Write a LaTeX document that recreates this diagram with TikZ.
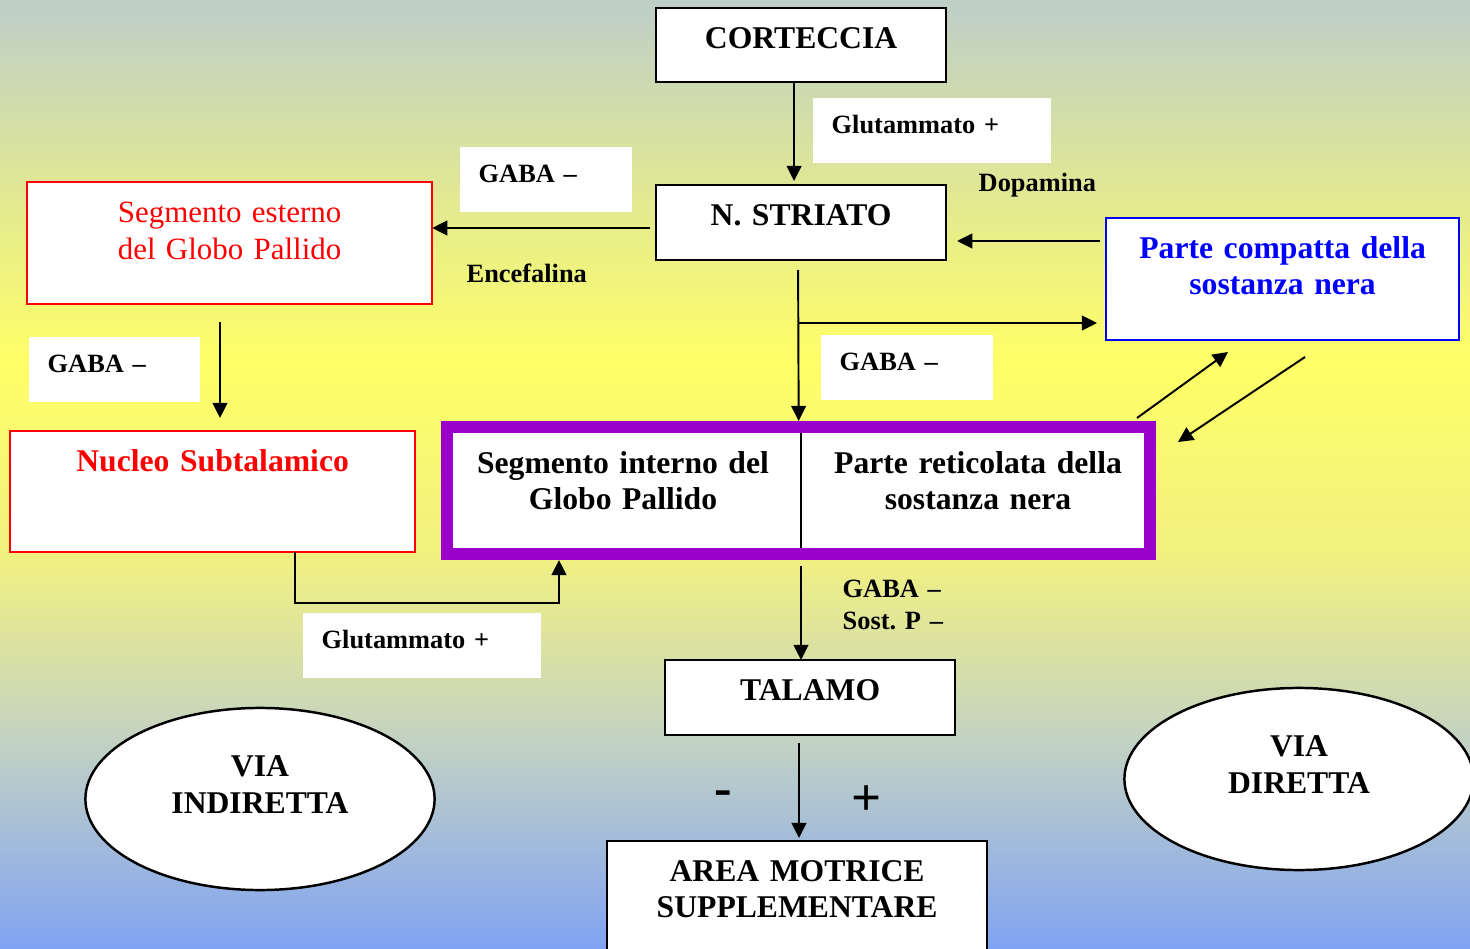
\documentclass[tikz,border=0pt]{standalone}
\usepackage{fontspec}
\setmainfont{Liberation Serif}
\usetikzlibrary{arrows.meta, shapes}
\frenchspacing

\definecolor{viola}{RGB}{153,0,204}
\definecolor{sfA}{RGB}{190,206,200}
\definecolor{sfB}{RGB}{255,255,102}
\definecolor{sfC}{RGB}{240,240,130}
\definecolor{sfD}{RGB}{195,210,195}
\definecolor{sfE}{RGB}{128,163,242}

\begin{document}
\begin{tikzpicture}[x=0.01cm, y=-0.01cm,
  box/.style={draw, fill=white, line width=0.7pt, inner sep=0pt, outer sep=0pt,
    anchor=north west, align=center, text height=0.4cm,
    font=\bfseries\fontsize{9}{10.5}\selectfont},
  lbl/.style={fill=white, inner xsep=0.19cm, inner ysep=0pt, anchor=north west,
    align=left, text height=0.36cm, text depth=0.29cm,
    font=\bfseries\fontsize{7.5}{9.1}\selectfont},
  note/.style={inner sep=0pt, anchor=base west, font=\bfseries\fontsize{7.5}{9.1}\selectfont},
  via/.style={ellipse, draw, fill=white, line width=0.7pt, inner sep=0pt,
    minimum width=3.49cm, minimum height=1.82cm, text width=2.2cm, align=center,
    text height=0.3cm, text depth=0.74cm, font=\bfseries\fontsize{9}{10.5}\selectfont},
  segno/.style={inner sep=0pt, font=\bfseries\fontsize{15}{18}\selectfont},
  conn/.style={line width=0.55pt, -{Triangle[length=4.3pt,width=4.2pt]}}]
  \useasboundingbox (0,0) rectangle (1470,949);
  \shade[top color=sfA, bottom color=sfB] (0,0) rectangle (1470,361);
  \shade[top color=sfB, bottom color=sfC] (0,360) rectangle (1470,561);
  \shade[top color=sfC, bottom color=sfD] (0,560) rectangle (1470,741);
  \shade[top color=sfD, bottom color=sfE] (0,740) rectangle (1470,949);

  \node[box, text width=2.9cm, text depth=0.34cm] (cort) at (656,8) {CORTECCIA};
  \node[box, text width=2.9cm, text depth=0.35cm] (striato) at (656,185) {N. STRIATO};
  \node[box, draw=red, text=red, line width=0.6pt, text width=4.05cm, text depth=0.82cm,
    font=\fontsize{8.8}{10.6}\selectfont] (gpe) at (27,182) {Segmento esterno\\del Globo Pallido};
  \node[box, draw=red, text=red, line width=0.6pt, text width=4.05cm, text depth=0.81cm] (nst) at (10,431) {Nucleo Subtalamico};
  \node[box, draw=blue, text=blue, text width=3.53cm, text depth=0.82cm] (snc) at (1106,218) {Parte compatta della\\sostanza nera};
  \node[box, draw=viola, line width=3.4pt, outer sep=1.7pt, text width=7.03cm, minimum height=1.27cm] (gpi) at (441,421) {};
  \draw[line width=0.7pt] ([xshift=0.025cm,yshift=-0.12cm]gpi.north) -- ([xshift=0.025cm,yshift=0.12cm]gpi.south);
  \node[box, draw=none, fill=none, anchor=north, text width=3.4cm] (segint) at (623,433) {Segmento interno del\\Globo Pallido};
  \node[box, draw=none, fill=none, anchor=north, text width=3.4cm] (snr) at (978,433) {Parte reticolata della\\sostanza nera};
  \node[box, text width=2.9cm, text depth=0.35cm] (tal) at (665,660) {TALAMO};
  \node[box, text width=3.8cm, text depth=1.2cm] (ams) at (607,841) {AREA MOTRICE\\SUPPLEMENTARE};

  \node[lbl, text width=2.0cm] (glu1) at (812,97) {Glutammato +};
  \node[lbl, text width=1.34cm] (gaba1) at (459,146) {GABA –};
  \node[lbl, text width=1.33cm] (gaba2) at (28,336) {GABA –};
  \node[lbl, text width=1.34cm] (gaba3) at (820,334) {GABA –};
  \node[lbl, text width=2.0cm] (glu2) at (302,612) {Glutammato +};
  \node[note] (dopa) at (978,192) {Dopamina};
  \node[note] (encef) at (466,283) {Encefalina};
  \node[note, text width=1.2cm, align=left] (gaba4) at (842,597) {GABA –\\Sost. P –};
  \node[segno] (meno) at (723,798) {-};
  \node[segno] (piu) at (867,801) {+};

  \node[via] (indir) at (260,799) {VIA\\INDIRETTA};
  \node[via] (dir) at (1299,779) {VIA\\DIRETTA};

  \coordinate (e1) at (650,228);
  \coordinate (e2) at (220,322);
  \coordinate (e3) at (799,323);
  \coordinate (e4) at (1100,241);
  \coordinate (e5) at (801,566);
  \coordinate (e6) at (799,743);
  \coordinate (g1) at (295,603);
  \coordinate (g2) at (559,603);
  \coordinate (d1) at (1137,418);
  \coordinate (d2) at (1228,352);
  \coordinate (d3) at (1305,357);
  \coordinate (d4) at (1178,442);
  \draw[conn] ([xshift=-0.07cm]cort.south) -- ([xshift=-0.07cm,yshift=0.04cm]striato.north);
  \draw[conn] (e1) -- (e1 -| gpe.east);
  \draw[conn, shorten >=0.13cm] (e2) -- (e2 |- nst.north);
  \draw[conn] (nst.south -| g1) -- (g1) -- (g2) -- (gpi.south -| g2);
  \draw[conn] ([xshift=-0.03cm,yshift=-0.1cm]striato.south) -- (gpi.north);
  \draw[conn, shorten >=0.09cm] (e3) -- (e3 -| snc.west);
  \draw[conn, shorten >=0.11cm] (e4) -- (e4 -| striato.east);
  \draw[conn] (d1) -- (d2);
  \draw[conn] (d3) -- (d4);
  \draw[conn] (e5) -- (e5 |- tal.north);
  \draw[conn, shorten >=0.03cm] (e6) -- (e6 |- ams.north);
\end{tikzpicture}
\end{document}
